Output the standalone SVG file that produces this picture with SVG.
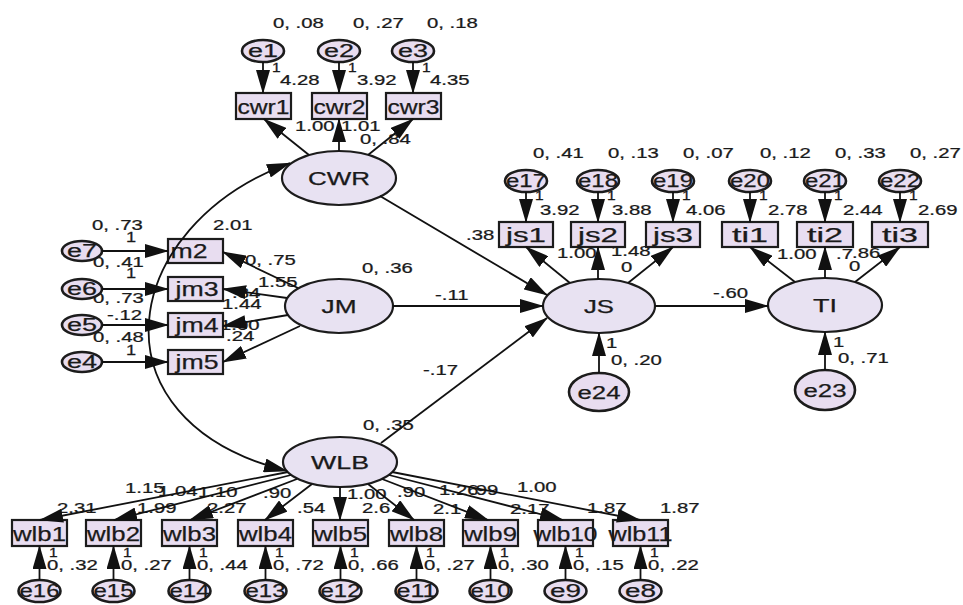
<svg xmlns="http://www.w3.org/2000/svg" width="963" height="605" viewBox="0 0 963 605">
<style>
.box{fill:#e8ddf0;stroke:#1c1c1c;stroke-width:2.2}
.lat{fill:#e8e2f2;stroke:#1c1c1c;stroke-width:2.2}
.err{fill:#e8ddf0;stroke:#1c1c1c;stroke-width:2.6}
.c{fill:none;stroke:#111;stroke-width:1.8;marker-end:url(#ah)}
.cov{fill:none;stroke:#111;stroke-width:1.8;marker-start:url(#ah2);marker-end:url(#ah2)}
text{font-family:"Liberation Sans",Arial,sans-serif;fill:#1a1a1a;stroke:#1a1a1a;stroke-width:0.25}
.lt{font-size:18px;text-anchor:middle}
.bt{font-size:21px;text-anchor:middle}
.et{font-size:18px;text-anchor:middle}
.n{font-size:14px}
.s{font-size:12px}
</style>
<defs>
<marker id="ah" markerUnits="userSpaceOnUse" markerWidth="24" markerHeight="14" refX="23" refY="7" orient="auto"><path d="M0,0 L24,7 L0,14 z" fill="#111"/></marker>
<marker id="ah2" markerUnits="userSpaceOnUse" markerWidth="24" markerHeight="14" refX="23" refY="7" orient="auto-start-reverse"><path d="M0,0 L24,7 L0,14 z" fill="#111"/></marker>
</defs>
<rect width="963" height="605" fill="#ffffff"/>

<g id="labels">
<text class="n" transform="translate(273,28) scale(1.45,1)">0, .08</text>
<text class="n" transform="translate(353,28) scale(1.45,1)">0, .27</text>
<text class="n" transform="translate(427,28) scale(1.45,1)">0, .18</text>
<text class="s" transform="translate(272,72) scale(1.3,1)">1</text>
<text class="s" transform="translate(348,72) scale(1.3,1)">1</text>
<text class="s" transform="translate(422,72) scale(1.3,1)">1</text>
<text class="n" transform="translate(280,85) scale(1.45,1)">4.28</text>
<text class="n" transform="translate(357,85) scale(1.45,1)">3.92</text>
<text class="n" transform="translate(430,85) scale(1.45,1)">4.35</text>
<text class="n" transform="translate(295,131) scale(1.45,1)">1.00</text>
<text class="n" transform="translate(341,131) scale(1.45,1)">1.01</text>
<text class="n" transform="translate(360,144) scale(1.45,1)">0, .84</text>

<text class="n" transform="translate(533,158) scale(1.45,1)">0, .41</text>
<text class="n" transform="translate(608,158) scale(1.45,1)">0, .13</text>
<text class="n" transform="translate(683,158) scale(1.45,1)">0, .07</text>
<text class="n" transform="translate(760,158) scale(1.45,1)">0, .12</text>
<text class="n" transform="translate(835,158) scale(1.45,1)">0, .33</text>
<text class="n" transform="translate(910,158) scale(1.45,1)">0, .27</text>
<text class="s" transform="translate(535,200) scale(1.3,1)">1</text>
<text class="s" transform="translate(607,200) scale(1.3,1)">1</text>
<text class="s" transform="translate(682,200) scale(1.3,1)">1</text>
<text class="s" transform="translate(759,200) scale(1.3,1)">1</text>
<text class="s" transform="translate(834,200) scale(1.3,1)">1</text>
<text class="s" transform="translate(909,200) scale(1.3,1)">1</text>
<text class="n" transform="translate(540,215) scale(1.45,1)">3.92</text>
<text class="n" transform="translate(612,215) scale(1.45,1)">3.88</text>
<text class="n" transform="translate(686,215) scale(1.45,1)">4.06</text>
<text class="n" transform="translate(768,215) scale(1.45,1)">2.78</text>
<text class="n" transform="translate(843,215) scale(1.45,1)">2.44</text>
<text class="n" transform="translate(918,215) scale(1.45,1)">2.69</text>

<text class="n" transform="translate(466,240) scale(1.45,1)">.38</text>
<text class="n" transform="translate(557,258) scale(1.45,1)">1.00</text>
<text class="n" transform="translate(611,256) scale(1.45,1)">1.48</text>
<text class="n" transform="translate(621,272) scale(1.45,1)">0</text>
<text class="n" transform="translate(777,259) scale(1.45,1)">1.00</text>
<text class="n" transform="translate(836,259) scale(1.45,1)">.7</text>
<text class="n" transform="translate(849,271) scale(1.45,1)">0</text>
<text class="n" transform="translate(852,258) scale(1.45,1)">.86</text>
<text class="n" transform="translate(713,298) scale(1.45,1)">-.60</text>
<text class="n" transform="translate(435,300) scale(1.45,1)">-.11</text>
<text class="n" transform="translate(423,375) scale(1.45,1)">-.17</text>
<text class="n" transform="translate(362,273) scale(1.45,1)">0, .36</text>
<text class="n" transform="translate(363,430) scale(1.45,1)">0, .35</text>
<text class="n" transform="translate(606,348) scale(1.45,1)">1</text>
<text class="n" transform="translate(611,365) scale(1.45,1)">0, .20</text>
<text class="n" transform="translate(833,347) scale(1.45,1)">1</text>
<text class="n" transform="translate(838,363) scale(1.45,1)">0, .71</text>

<text class="n" transform="translate(92,230) scale(1.45,1)">0, .73</text>
<text class="n" transform="translate(126,242) scale(1.3,1)">1</text>
<text class="n" transform="translate(93,267) scale(1.45,1)">0, .41</text>
<text class="n" transform="translate(126,278) scale(1.3,1)">1</text>
<text class="n" transform="translate(93,303) scale(1.45,1)">0, .73</text>
<text class="n" transform="translate(107,320) scale(1.45,1)">-.12</text>
<text class="n" transform="translate(93,342) scale(1.45,1)">0, .48</text>
<text class="n" transform="translate(126,355) scale(1.3,1)">1</text>
<text class="n" transform="translate(213,230) scale(1.45,1)">2.01</text>
<text class="n" transform="translate(245,265) scale(1.45,1)">0, .75</text>
<text class="n" transform="translate(258,287) scale(1.45,1)">1.55</text>
<text class="n" transform="translate(232,298) scale(1.45,1)">.84</text>
<text class="n" transform="translate(222,309) scale(1.45,1)">1.44</text>
<text class="n" transform="translate(220,330) scale(1.45,1)">1.00</text>
<text class="n" transform="translate(226,341) scale(1.45,1)">.24</text>

<text class="n" transform="translate(125,493) scale(1.45,1)">1.15</text>
<text class="n" transform="translate(158,496) scale(1.45,1)">1.04</text>
<text class="n" transform="translate(198,497) scale(1.45,1)">1.10</text>
<text class="n" transform="translate(263,498) scale(1.45,1)">.90</text>
<text class="n" transform="translate(347,499) scale(1.45,1)">1.00</text>
<text class="n" transform="translate(397,497) scale(1.45,1)">.90</text>
<text class="n" transform="translate(439,495) scale(1.45,1)">1.26</text>
<text class="n" transform="translate(470,495) scale(1.45,1)">.99</text>
<text class="n" transform="translate(517,492) scale(1.45,1)">1.00</text>
<text class="n" transform="translate(57,513) scale(1.45,1)">2.31</text>
<text class="n" transform="translate(137,513) scale(1.45,1)">1.99</text>
<text class="n" transform="translate(207,513) scale(1.45,1)">2.27</text>
<text class="n" transform="translate(297,513) scale(1.45,1)">.54</text>
<text class="n" transform="translate(362,513) scale(1.45,1)">2.6</text>
<text class="n" transform="translate(433,514) scale(1.45,1)">2.1</text>
<text class="n" transform="translate(510,514) scale(1.45,1)">2.17</text>
<text class="n" transform="translate(587,513) scale(1.45,1)">1.87</text>
<text class="n" transform="translate(660,513) scale(1.45,1)">1.87</text>
<text class="s" transform="translate(49,557) scale(1.3,1)">1</text>
<text class="s" transform="translate(123,557) scale(1.3,1)">1</text>
<text class="s" transform="translate(199,557) scale(1.3,1)">1</text>
<text class="s" transform="translate(275,557) scale(1.3,1)">1</text>
<text class="s" transform="translate(350,557) scale(1.3,1)">1</text>
<text class="s" transform="translate(426,557) scale(1.3,1)">1</text>
<text class="s" transform="translate(500,557) scale(1.3,1)">1</text>
<text class="s" transform="translate(575,557) scale(1.3,1)">1</text>
<text class="s" transform="translate(650,557) scale(1.3,1)">1</text>
<text class="n" transform="translate(47,570) scale(1.45,1)">0, .32</text>
<text class="n" transform="translate(121,570) scale(1.45,1)">0, .27</text>
<text class="n" transform="translate(197,570) scale(1.45,1)">0, .44</text>
<text class="n" transform="translate(273,570) scale(1.45,1)">0, .72</text>
<text class="n" transform="translate(348,570) scale(1.45,1)">0, .66</text>
<text class="n" transform="translate(424,570) scale(1.45,1)">0, .27</text>
<text class="n" transform="translate(498,570) scale(1.45,1)">0, .30</text>
<text class="n" transform="translate(573,570) scale(1.45,1)">0, .15</text>
<text class="n" transform="translate(648,570) scale(1.45,1)">0, .22</text>
</g>

<g id="e1"><ellipse class="err" cx="263" cy="51" rx="21" ry="11"/><text class="et" x="263" y="57" textLength="30" lengthAdjust="spacingAndGlyphs">e1</text></g>
<g id="e2"><ellipse class="err" cx="339" cy="51" rx="21" ry="11"/><text class="et" x="339" y="57" textLength="30" lengthAdjust="spacingAndGlyphs">e2</text></g>
<g id="e3"><ellipse class="err" cx="413" cy="51" rx="21" ry="11"/><text class="et" x="413" y="57" textLength="30" lengthAdjust="spacingAndGlyphs">e3</text></g>
<g id="cwr1"><rect class="box" x="236" y="93" width="55" height="26"/><text class="bt" x="263.5" y="113.5" textLength="52" lengthAdjust="spacingAndGlyphs">cwr1</text></g>
<g id="cwr2"><rect class="box" x="312" y="93" width="55" height="26"/><text class="bt" x="339.5" y="113.5" textLength="52" lengthAdjust="spacingAndGlyphs">cwr2</text></g>
<g id="cwr3"><rect class="box" x="386" y="93" width="55" height="26"/><text class="bt" x="413.5" y="113.5" textLength="52" lengthAdjust="spacingAndGlyphs">cwr3</text></g>
<g id="CWR"><ellipse class="lat" cx="339" cy="178" rx="57" ry="27"/><text class="lt" x="339" y="184.5" textLength="62" lengthAdjust="spacingAndGlyphs">CWR</text></g>

<g id="e7"><ellipse class="err" cx="82" cy="251" rx="20" ry="10"/><text class="et" x="82" y="257" textLength="30" lengthAdjust="spacingAndGlyphs">e7</text></g>
<g id="e6"><ellipse class="err" cx="82" cy="289" rx="20" ry="10"/><text class="et" x="82" y="295" textLength="30" lengthAdjust="spacingAndGlyphs">e6</text></g>
<g id="e5"><ellipse class="err" cx="82" cy="325" rx="20" ry="10"/><text class="et" x="82" y="331" textLength="30" lengthAdjust="spacingAndGlyphs">e5</text></g>
<g id="e4"><ellipse class="err" cx="82" cy="362" rx="20" ry="10"/><text class="et" x="82" y="368" textLength="30" lengthAdjust="spacingAndGlyphs">e4</text></g>
<g id="jm2"><rect class="box" x="168" y="239" width="55" height="24"/><text class="bt" x="189" y="258" textLength="37" lengthAdjust="spacingAndGlyphs">m2</text></g>
<g id="jm3"><rect class="box" x="168" y="277" width="55" height="24"/><text class="bt" x="197" y="296" textLength="43" lengthAdjust="spacingAndGlyphs">jm3</text></g>
<g id="jm4"><rect class="box" x="168" y="313" width="55" height="24"/><text class="bt" x="197" y="332" textLength="43" lengthAdjust="spacingAndGlyphs">jm4</text></g>
<g id="jm5"><rect class="box" x="168" y="350" width="55" height="24"/><text class="bt" x="197" y="369" textLength="43" lengthAdjust="spacingAndGlyphs">jm5</text></g>
<g id="JM"><ellipse class="lat" cx="339" cy="306" rx="54" ry="27"/><text class="lt" x="339" y="312.5" textLength="35" lengthAdjust="spacingAndGlyphs">JM</text></g>

<g id="e17"><ellipse class="err" cx="526" cy="181" rx="21" ry="11"/><text class="et" x="526" y="187" textLength="40" lengthAdjust="spacingAndGlyphs">e17</text></g>
<g id="e18"><ellipse class="err" cx="598" cy="181" rx="21" ry="11"/><text class="et" x="598" y="187" textLength="40" lengthAdjust="spacingAndGlyphs">e18</text></g>
<g id="e19"><ellipse class="err" cx="673" cy="181" rx="21" ry="11"/><text class="et" x="673" y="187" textLength="40" lengthAdjust="spacingAndGlyphs">e19</text></g>
<g id="js1"><rect class="box" x="499" y="222" width="54" height="25"/><text class="bt" x="526" y="242" textLength="40" lengthAdjust="spacingAndGlyphs">js1</text></g>
<g id="js2"><rect class="box" x="571" y="222" width="54" height="25"/><text class="bt" x="598" y="242" textLength="40" lengthAdjust="spacingAndGlyphs">js2</text></g>
<g id="js3"><rect class="box" x="646" y="222" width="54" height="25"/><text class="bt" x="673" y="242" textLength="40" lengthAdjust="spacingAndGlyphs">js3</text></g>
<g id="JS"><ellipse class="lat" cx="599" cy="306" rx="56" ry="27"/><text class="lt" x="599" y="312.5" textLength="30" lengthAdjust="spacingAndGlyphs">JS</text></g>
<g id="e24"><ellipse class="err" cx="599" cy="392" rx="30" ry="19"/><text class="et" x="599" y="398.5" textLength="43" lengthAdjust="spacingAndGlyphs">e24</text></g>

<g id="e20"><ellipse class="err" cx="750" cy="181" rx="21" ry="11"/><text class="et" x="750" y="187" textLength="40" lengthAdjust="spacingAndGlyphs">e20</text></g>
<g id="e21"><ellipse class="err" cx="825" cy="181" rx="21" ry="11"/><text class="et" x="825" y="187" textLength="40" lengthAdjust="spacingAndGlyphs">e21</text></g>
<g id="e22"><ellipse class="err" cx="900" cy="181" rx="21" ry="11"/><text class="et" x="900" y="187" textLength="40" lengthAdjust="spacingAndGlyphs">e22</text></g>
<g id="ti1"><rect class="box" x="722" y="222" width="56" height="25"/><text class="bt" x="750" y="242" textLength="36" lengthAdjust="spacingAndGlyphs">ti1</text></g>
<g id="ti2"><rect class="box" x="797" y="222" width="56" height="25"/><text class="bt" x="825" y="242" textLength="36" lengthAdjust="spacingAndGlyphs">ti2</text></g>
<g id="ti3"><rect class="box" x="872" y="222" width="56" height="25"/><text class="bt" x="900" y="242" textLength="36" lengthAdjust="spacingAndGlyphs">ti3</text></g>
<g id="TI"><ellipse class="lat" cx="825" cy="305" rx="57" ry="27"/><text class="lt" x="825" y="311.5" textLength="24" lengthAdjust="spacingAndGlyphs">TI</text></g>
<g id="e23"><ellipse class="err" cx="825" cy="390" rx="30" ry="20"/><text class="et" x="825" y="396.5" textLength="43" lengthAdjust="spacingAndGlyphs">e23</text></g>

<g id="WLB"><ellipse class="lat" cx="340" cy="462" rx="57" ry="25"/><text class="lt" x="340" y="468.5" textLength="58" lengthAdjust="spacingAndGlyphs">WLB</text></g>
<g id="wlb1"><rect class="box" x="12" y="520" width="55" height="26"/><text class="bt" x="39.5" y="540.5" textLength="53" lengthAdjust="spacingAndGlyphs">wlb1</text></g>
<g id="wlb2"><rect class="box" x="86" y="520" width="55" height="26"/><text class="bt" x="113.5" y="540.5" textLength="53" lengthAdjust="spacingAndGlyphs">wlb2</text></g>
<g id="wlb3"><rect class="box" x="162" y="520" width="55" height="26"/><text class="bt" x="189.5" y="540.5" textLength="53" lengthAdjust="spacingAndGlyphs">wlb3</text></g>
<g id="wlb4"><rect class="box" x="238" y="520" width="55" height="26"/><text class="bt" x="265.5" y="540.5" textLength="53" lengthAdjust="spacingAndGlyphs">wlb4</text></g>
<g id="wlb5"><rect class="box" x="313" y="520" width="55" height="26"/><text class="bt" x="340.5" y="540.5" textLength="53" lengthAdjust="spacingAndGlyphs">wlb5</text></g>
<g id="wlb8"><rect class="box" x="389" y="520" width="55" height="26"/><text class="bt" x="416.5" y="540.5" textLength="53" lengthAdjust="spacingAndGlyphs">wlb8</text></g>
<g id="wlb9"><rect class="box" x="463" y="520" width="55" height="26"/><text class="bt" x="490.5" y="540.5" textLength="53" lengthAdjust="spacingAndGlyphs">wlb9</text></g>
<g id="wlb10"><rect class="box" x="538" y="520" width="55" height="26"/><text class="bt" x="565.5" y="540.5" textLength="64" lengthAdjust="spacingAndGlyphs">wlb10</text></g>
<g id="wlb11"><rect class="box" x="613" y="520" width="55" height="26"/><text class="bt" x="640.5" y="540.5" textLength="64" lengthAdjust="spacingAndGlyphs">wlb11</text></g>
<g id="e16"><ellipse class="err" cx="39.5" cy="591" rx="21" ry="11"/><text class="et" x="39.5" y="597" textLength="40" lengthAdjust="spacingAndGlyphs">e16</text></g>
<g id="e15"><ellipse class="err" cx="113.5" cy="591" rx="21" ry="11"/><text class="et" x="113.5" y="597" textLength="40" lengthAdjust="spacingAndGlyphs">e15</text></g>
<g id="e14"><ellipse class="err" cx="189.5" cy="591" rx="21" ry="11"/><text class="et" x="189.5" y="597" textLength="40" lengthAdjust="spacingAndGlyphs">e14</text></g>
<g id="e13"><ellipse class="err" cx="265.5" cy="591" rx="21" ry="11"/><text class="et" x="265.5" y="597" textLength="40" lengthAdjust="spacingAndGlyphs">e13</text></g>
<g id="e12"><ellipse class="err" cx="340.5" cy="591" rx="21" ry="11"/><text class="et" x="340.5" y="597" textLength="40" lengthAdjust="spacingAndGlyphs">e12</text></g>
<g id="e11"><ellipse class="err" cx="416.5" cy="591" rx="21" ry="11"/><text class="et" x="416.5" y="597" textLength="40" lengthAdjust="spacingAndGlyphs">e11</text></g>
<g id="e10"><ellipse class="err" cx="490.5" cy="591" rx="21" ry="11"/><text class="et" x="490.5" y="597" textLength="40" lengthAdjust="spacingAndGlyphs">e10</text></g>
<g id="e9"><ellipse class="err" cx="565.5" cy="591" rx="21" ry="11"/><text class="et" x="565.5" y="597" textLength="31" lengthAdjust="spacingAndGlyphs">e9</text></g>
<g id="e8"><ellipse class="err" cx="640.5" cy="591" rx="21" ry="11"/><text class="et" x="640.5" y="597" textLength="31" lengthAdjust="spacingAndGlyphs">e8</text></g>

<g id="connectors">
<path class="c" d="M263,62 L263,93"/>
<path class="c" d="M339,62 L339,93"/>
<path class="c" d="M413,62 L413,93"/>
<path class="c" d="M309,155 L264,119"/>
<path class="c" d="M339,151 L339,119"/>
<path class="c" d="M368,155 L413,119"/>
<path class="c" d="M526,192 L526,222"/>
<path class="c" d="M598,192 L598,222"/>
<path class="c" d="M673,192 L673,222"/>
<path class="c" d="M570,283 L526,247"/>
<path class="c" d="M598,279 L598,247"/>
<path class="c" d="M628,283 L673,247"/>
<path class="c" d="M750,192 L750,222"/>
<path class="c" d="M825,192 L825,222"/>
<path class="c" d="M900,192 L900,222"/>
<path class="c" d="M795,282 L750,247"/>
<path class="c" d="M825,278 L825,247"/>
<path class="c" d="M855,282 L900,247"/>
<path class="c" d="M599,373 L599,333"/>
<path class="c" d="M825,370 L825,332"/>
<path class="c" d="M655,306 L768,306"/>
<path class="c" d="M380,196 L547,295"/>
<path class="c" d="M393,306 L543,306"/>
<path class="c" d="M381,443 L547,318"/>
<path class="c" d="M102,251 L168,251"/>
<path class="c" d="M102,289 L168,289"/>
<path class="c" d="M102,325 L168,325"/>
<path class="c" d="M102,362 L168,362"/>
<path class="c" d="M298,288 L223,252"/>
<path class="c" d="M287,298 L223,289"/>
<path class="c" d="M288,315 L223,326"/>
<path class="c" d="M300,326 L223,362"/>
<path class="c" d="M288,472 L40,520"/>
<path class="c" d="M291,475 L114,520"/>
<path class="c" d="M297,479 L190,520"/>
<path class="c" d="M312,484 L265,520"/>
<path class="c" d="M340,487 L340,520"/>
<path class="c" d="M368,484 L414,520"/>
<path class="c" d="M382,479 L488,520"/>
<path class="c" d="M389,475 L563,520"/>
<path class="c" d="M392,472 L640,520"/>
<path class="c" d="M39.5,580 L39.5,546"/>
<path class="c" d="M113.5,580 L113.5,546"/>
<path class="c" d="M189.5,580 L189.5,546"/>
<path class="c" d="M265.5,580 L265.5,546"/>
<path class="c" d="M340.5,580 L340.5,546"/>
<path class="c" d="M416.5,580 L416.5,546"/>
<path class="c" d="M490.5,580 L490.5,546"/>
<path class="c" d="M565.5,580 L565.5,546"/>
<path class="c" d="M640.5,580 L640.5,546"/>
<path class="cov" d="M290,163 C120,225 85,420 287,471"/>
</g>
</svg>
